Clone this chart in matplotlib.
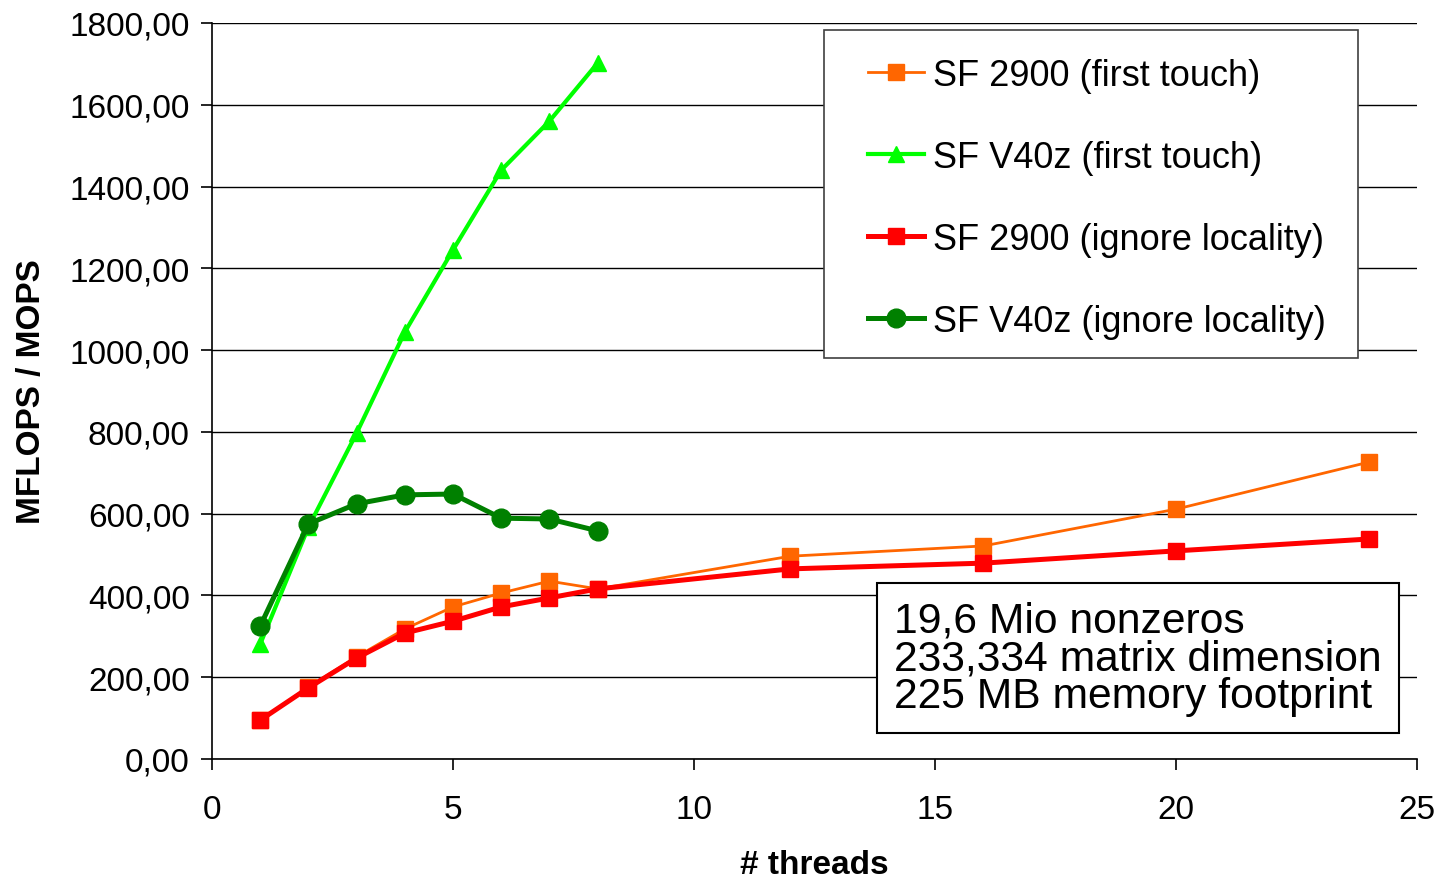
import matplotlib
matplotlib.use("Agg")
import matplotlib.pyplot as plt
from matplotlib.patches import Rectangle
from matplotlib.ticker import FuncFormatter, MultipleLocator

plt.rcParams['font.family'] = ['Liberation Sans', 'DejaVu Sans']

threads_2900 = [1, 2, 3, 4, 5, 6, 7, 8, 12, 16, 20, 24]
threads_v40z = [1, 2, 3, 4, 5, 6, 7, 8]

sf2900_first = [95, 176, 250, 318, 372, 406, 435, 416, 496, 521, 611, 726]
v40z_first = [281, 567, 797, 1044, 1245, 1440, 1560, 1702]
sf2900_ignore = [95, 174, 247, 308, 337, 372, 394, 416, 465, 479, 509, 538]
v40z_ignore = [325, 575, 624, 646, 648, 589, 587, 558]

labels = ["SF 2900 (first touch)", "SF V40z (first touch)",
          "SF 2900 (ignore locality)", "SF V40z (ignore locality)"]
info_lines = ["19,6 Mio nonzeros", "233,334 matrix dimension", "225 MB memory footprint"]

W, H = 1440, 878
fig = plt.figure(figsize=(14.4, 8.78), dpi=100)
ax = fig.add_axes([212 / W, 1 - 760 / H, 1205 / W, 736 / H])

ax.plot(threads_2900, sf2900_first, color='#FF6600', lw=2.0, marker='s', ms=11,
        label=labels[0])
ax.plot(threads_v40z, v40z_first, color='#00FF00', lw=3, marker='^', ms=12,
        label=labels[1])
ax.plot(threads_2900, sf2900_ignore, color='#FF0000', lw=3.6, marker='s', ms=11.5,
        label=labels[2])
ax.plot(threads_v40z, v40z_ignore, color='#008000', lw=3.6, marker='o', ms=13.5,
        label=labels[3])

ax.set_xlim(0, 25)
ax.set_ylim(0, 1800)
ax.xaxis.set_major_locator(MultipleLocator(5))
ax.yaxis.set_major_locator(MultipleLocator(200))
ax.yaxis.set_major_formatter(FuncFormatter(lambda v, p: f"{v:.2f}".replace('.', ',')))
ax.grid(axis='y', color='black', lw=1)
ax.set_axisbelow(True)
for s in ['top', 'right']:
    ax.spines[s].set_visible(False)
for s in ['left', 'bottom']:
    ax.spines[s].set_linewidth(1.2)
ax.tick_params(axis='y', direction='out', length=8, width=1.2, labelsize=24, pad=8)
ax.tick_params(axis='x', direction='out', length=8, width=1.2, labelsize=24, pad=17)

ax.set_xlabel("# threads", fontsize=24, fontweight='bold')
ax.set_ylabel("MFLOPS / MOPS", fontsize=24, fontweight='bold')
ax.xaxis.set_label_coords(0.5, -0.122)
ax.yaxis.set_label_coords(-0.137, 0.5)

# legend frame drawn by hand so the inner padding matches
ax.add_patch(Rectangle((824 / W, 1 - 359 / H), 534 / W, 328 / H,
                       transform=fig.transFigure, facecolor='white',
                       edgecolor='#404040', lw=1.2, zorder=3, clip_on=False))
leg = ax.legend(loc='upper left', bbox_to_anchor=(868 / W, 1 - 59 / H),
                bbox_transform=fig.transFigure, fontsize=26, frameon=False,
                handlelength=1.55, handletextpad=0.25, labelspacing=1.3,
                borderpad=0, borderaxespad=0)
leg.set_zorder(5)

ax.text(14.15, 247, "\n".join(info_lines), fontsize=30.7, va='center', ha='left',
        linespacing=0.92, zorder=5,
        bbox=dict(boxstyle='square,pad=0.4', facecolor='white', edgecolor='black', lw=1.5))

fig.savefig("out.png", dpi=100)
